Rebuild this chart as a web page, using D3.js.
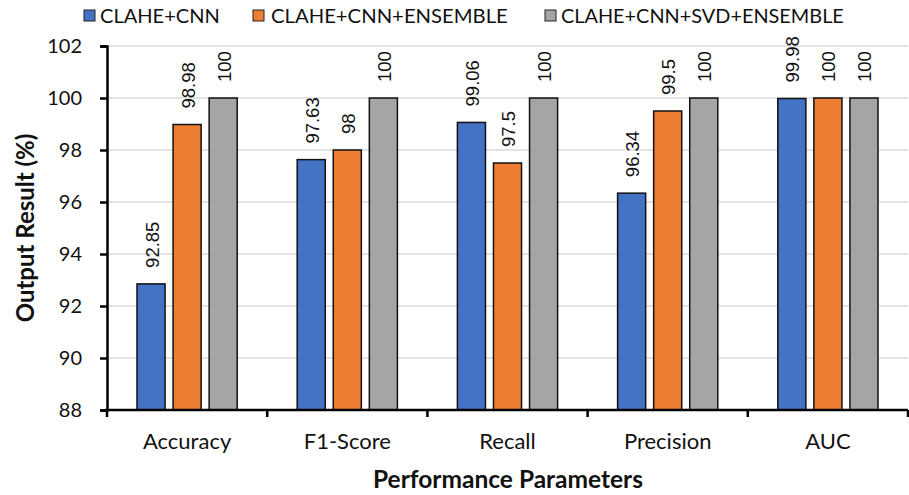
<!DOCTYPE html>
<html>
<head>
<meta charset="utf-8">
<script src="https://cdn.jsdelivr.net/npm/d3@7"></script>
<style>
  html, body { margin: 0; padding: 0; background: #fff; }
  svg { display: block; }
</style>
</head>
<body>
<div id="chart"></div>
<script>
// Performance metrics of three pipeline variants
const categories = ["Accuracy", "F1-Score", "Recall", "Precision", "AUC"];
const seriesNames = ["CLAHE+CNN", "CLAHE+CNN+ENSEMBLE", "CLAHE+CNN+SVD+ENSEMBLE"];
const cnn        = [92.85, 97.63, 99.06, 96.34, 99.98];
const cnnEns     = [98.98, 98, 97.5, 99.5, 100];
const cnnSvdEns  = [100, 100, 100, 100, 100];
const yTicks = [88, 90, 92, 94, 96, 98, 100, 102];
const colors = ["#4472C4", "#ED7D31", "#A5A5A5"];

const seriesValues = [cnn, cnnEns, cnnSvdEns];

const W = 909, H = 495;
const margin = { left: 107, right: 1, top: 46, bottom: 85 };
const svg = d3.select("#chart").append("svg").attr("width", W).attr("height", H);

const calibriLike = "Lato, 'Open Sans', sans-serif";

const x0 = d3.scaleBand().domain(categories).range([margin.left, W - margin.right]).padding(0);
const x1 = d3.scaleBand().domain(d3.range(seriesNames.length))
  .range([30, x0.bandwidth() - 30]).paddingInner(0.222);
const y = d3.scaleLinear().domain([88, 102]).range([H - margin.bottom, margin.top]);

// gridlines
svg.append("g").selectAll("line").data(yTicks.filter(t => t > 88)).join("line")
  .attr("x1", margin.left).attr("x2", W - margin.right)
  .attr("y1", d => y(d)).attr("y2", d => y(d))
  .attr("stroke", "#d9d9d9").attr("stroke-width", 1.5);

// bars
const groups = svg.append("g").selectAll("g").data(categories).join("g")
  .attr("transform", d => `translate(${x0(d)},0)`);

groups.selectAll("rect")
  .data((c, i) => seriesValues.map((s, k) => ({ k, v: s[i] })))
  .join("rect")
  .attr("x", d => x1(d.k))
  .attr("width", x1.bandwidth())
  .attr("y", d => y(d.v))
  .attr("height", d => y(88) - y(d.v))
  .attr("fill", d => colors[d.k])
  .attr("stroke", "#111").attr("stroke-width", 1.5);

// value labels
groups.selectAll("text.val")
  .data((c, i) => seriesValues.map((s, k) => ({ k, v: s[i] })))
  .join("text").attr("class", "val")
  .attr("transform", d => `translate(${x1(d.k) + x1.bandwidth() / 2 + 1},${y(d.v) - 16}) rotate(-90)`)
  .attr("dy", "0.35em")
  .attr("text-anchor", "start")
  .attr("font-family", "'Liberation Sans', Arial, sans-serif")
  .attr("font-size", 18.5)
  .attr("fill", "#111")
  .text(d => d.v);

// y axis
const yAxis = svg.append("g").attr("transform", `translate(${margin.left},0)`)
  .call(d3.axisLeft(y).tickValues(yTicks).tickSize(7).tickPadding(18).tickFormat(d3.format("d")));
yAxis.select(".domain").attr("stroke", "#000").attr("stroke-width", 2.5);
yAxis.selectAll(".tick line").attr("stroke", "#000").attr("stroke-width", 2.5);
yAxis.selectAll(".tick text").attr("font-family", calibriLike).attr("font-size", 20).attr("fill", "#111");

// x axis with ticks at category boundaries
const xAxisY = y(88);
svg.append("line").attr("x1", margin.left - 2).attr("x2", W - margin.right)
  .attr("y1", xAxisY).attr("y2", xAxisY).attr("stroke", "#000").attr("stroke-width", 2.5);
svg.append("g").selectAll("line").data(d3.range(categories.length + 1)).join("line")
  .attr("x1", i => margin.left + i * x0.step())
  .attr("x2", i => margin.left + i * x0.step())
  .attr("y1", xAxisY).attr("y2", xAxisY + 7)
  .attr("stroke", "#000").attr("stroke-width", 2.5);

svg.append("g").selectAll("text").data(categories).join("text")
  .attr("x", d => x0(d) + x0.bandwidth() / 2)
  .attr("y", 449)
  .attr("text-anchor", "middle")
  .attr("font-family", calibriLike).attr("font-size", 22).attr("fill", "#111")
  .text(d => d);

// axis titles
svg.append("text")
  .attr("transform", `translate(34,228) rotate(-90)`)
  .attr("text-anchor", "middle")
  .attr("font-family", calibriLike).attr("font-weight", "bold").attr("font-size", 24).attr("fill", "#111")
  .text("Output Result (%)");
svg.append("text")
  .attr("x", 508).attr("y", 488)
  .attr("text-anchor", "middle")
  .attr("font-family", calibriLike).attr("font-weight", "bold").attr("font-size", 24.5).attr("fill", "#111")
  .text("Performance Parameters");

// legend: each label fitted to its slot width
const legendItems = [
  { sx: 84, tx: 100, tw: 120 },
  { sx: 253, tx: 271, tw: 237 },
  { sx: 545, tx: 561, tw: 283 }
];
const legend = svg.append("g").selectAll("g").data(seriesNames).join("g");
legend.append("rect")
  .attr("x", (d, i) => legendItems[i].sx).attr("y", 10)
  .attr("width", 11).attr("height", 11)
  .attr("fill", (d, i) => colors[i]).attr("stroke", "#222").attr("stroke-width", 1);
legend.append("text")
  .attr("x", 0).attr("y", 0)
  .attr("font-family", calibriLike).attr("font-size", 19).attr("fill", "#111")
  .text(d => d)
  .each(function (d, i) {
    const natural = this.getComputedTextLength();
    const s = legendItems[i].tw / natural;
    d3.select(this).attr("transform", `translate(${legendItems[i].tx},23) scale(${s},1)`);
  });
</script>
</body>
</html>
